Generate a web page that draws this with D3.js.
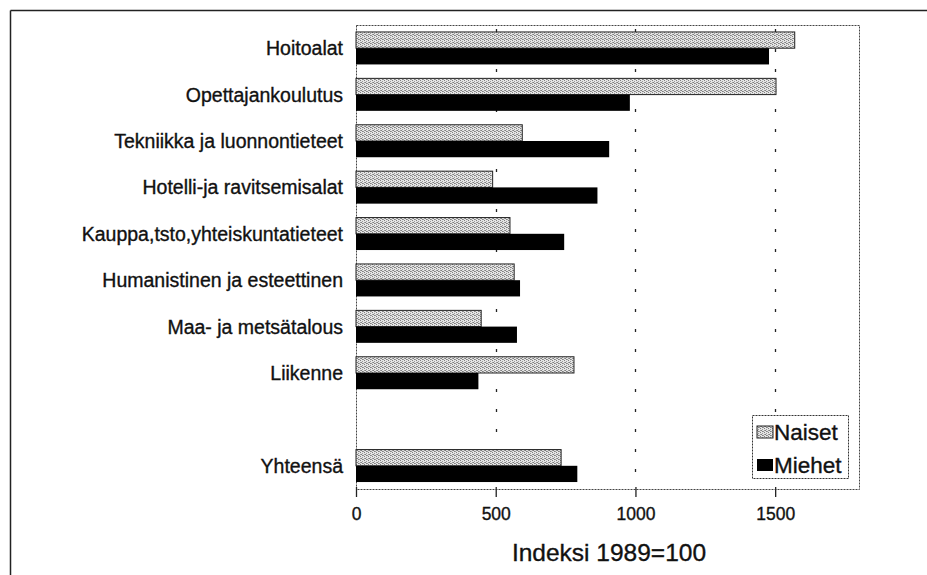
<!DOCTYPE html>
<html>
<head>
<meta charset="utf-8">
<script src="https://cdn.jsdelivr.net/npm/d3@7"></script>
<style>
  html, body { margin: 0; padding: 0; background: #fff; }
  svg { display: block; font-family: "Liberation Sans", Arial, sans-serif; }
  text { paint-order: stroke; stroke: #111; stroke-width: 0.35px; }
</style>
</head>
<body>
<svg id="chart" width="927" height="575"></svg>
<script>
// ---- data ----
const categories = [
  "Hoitoalat",
  "Opettajankoulutus",
  "Tekniikka ja luonnontieteet",
  "Hotelli-ja ravitsemisalat",
  "Kauppa,tsto,yhteiskuntatieteet",
  "Humanistinen ja esteettinen",
  "Maa- ja metsätalous",
  "Liikenne",
  "",            // empty slot
  "Yhteensä"
];
const naiset = [1570, 1503, 595, 489, 551, 566, 448, 780, null, 734];
const miehet = [1478, 980, 906, 864, 745, 587, 576, 438, null, 792];
const seriesNames = ["Naiset", "Miehet"];
const xTicks = [0, 500, 1000, 1500];
const xTitle = "Indeksi 1989=100";

// ---- layout ----
const svg = d3.select("#chart");
const pLeft = 356, pRight = 859, pTop = 25, pBottom = 489;

const x = d3.scaleLinear().domain([0, 1800]).range([pLeft, pRight]);
const slots = categories.map((c, i) => "s" + i);
const y = d3.scaleBand().domain(slots).range([pTop, pBottom])
  .paddingInner(0.3).paddingOuter(0.15);
const sub = d3.scaleBand().domain(seriesNames).range([0, y.bandwidth()]);

// stipple pattern for Naiset
const defs = svg.append("defs");
const pat = defs.append("pattern").attr("id", "stip")
  .attr("patternUnits", "userSpaceOnUse").attr("width", 4).attr("height", 4);
pat.append("rect").attr("width", 4).attr("height", 4).attr("fill", "#e4e4e4");
[[0, 0], [2, 1], [1, 2], [3, 3], [2, 3], [0, 2]].forEach(([px, py], k) => {
  pat.append("rect").attr("x", px).attr("y", py).attr("width", 1).attr("height", 1)
    .attr("fill", k % 2 ? "#9a9a9a" : "#808080");
});

// outer frame (cropped at right/bottom)
svg.append("line").attr("x1", 10.5).attr("x2", 927).attr("y1", 10.5).attr("y2", 10.5)
  .attr("stroke", "#222").attr("stroke-width", 1.5);
svg.append("line").attr("x1", 10.5).attr("x2", 10.5).attr("y1", 10.5).attr("y2", 575)
  .attr("stroke", "#222").attr("stroke-width", 1.5);

// gridlines
svg.append("g").selectAll("line").data(xTicks.filter(d => d > 0)).join("line")
  .attr("x1", d => Math.round(x(d)) + 0.5).attr("x2", d => Math.round(x(d)) + 0.5)
  .attr("y1", pTop + 4).attr("y2", pBottom)
  .attr("stroke", "#222").attr("stroke-width", 1.3)
  .attr("stroke-dasharray", "3,17");

// plot frame (dotted)
svg.append("rect").attr("x", pLeft + 0.5).attr("y", pTop + 0.5)
  .attr("width", pRight - pLeft).attr("height", pBottom - pTop)
  .attr("fill", "none").attr("stroke", "#444").attr("stroke-width", 1)
  .attr("stroke-dasharray", "2,1");

// bars
const rows = categories.map((c, i) => ({ slot: slots[i], cat: c, n: naiset[i], m: miehet[i] }))
  .filter(d => d.n != null);

const g = svg.append("g");
g.selectAll("rect.naiset").data(rows).join("rect").attr("class", "naiset")
  .attr("x", x(0)).attr("y", d => y(d.slot) + sub("Naiset"))
  .attr("width", d => x(d.n) - x(0)).attr("height", sub.bandwidth())
  .attr("fill", "url(#stip)").attr("stroke", "#222").attr("stroke-width", 1);
g.selectAll("rect.miehet").data(rows).join("rect").attr("class", "miehet")
  .attr("x", x(0)).attr("y", d => y(d.slot) + sub("Miehet"))
  .attr("width", d => x(d.m) - x(0)).attr("height", sub.bandwidth())
  .attr("fill", "#000");

// category labels
svg.append("g").selectAll("text").data(rows).join("text")
  .attr("x", 343).attr("y", d => y(d.slot) + y.bandwidth() / 2)
  .attr("dy", "0.36em").attr("text-anchor", "end")
  .attr("font-size", 19.5).attr("fill", "#111")
  .text(d => d.cat);

// x axis
const xAxis = d3.axisBottom(x).tickValues(xTicks).tickSize(10).tickPadding(11)
  .tickFormat(d3.format("d"));
const ax = svg.append("g").attr("transform", `translate(0,${pBottom - 2})`).call(xAxis);
ax.select(".domain").remove();
ax.selectAll(".tick line").attr("stroke", "#222").attr("stroke-width", 1.3);
ax.selectAll(".tick text").attr("font-size", 17.5).attr("fill", "#111")
  .attr("font-family", "Liberation Sans, Arial, sans-serif");

// axis title
svg.append("text").attr("x", 609).attr("y", 561).attr("text-anchor", "middle")
  .attr("font-size", 24.5).attr("fill", "#111").text(xTitle);

// legend
const lg = svg.append("g");
lg.append("rect").attr("x", 752.5).attr("y", 415.5).attr("width", 96).attr("height", 63)
  .attr("fill", "#fff").attr("stroke", "#333").attr("stroke-width", 1)
  .attr("stroke-dasharray", "2,1");
const fills = { Naiset: "url(#stip)", Miehet: "#000" };
seriesNames.forEach((s, i) => {
  const yy = 426 + i * 33;
  lg.append("rect").attr("x", 757).attr("y", yy).attr("width", 16).attr("height", 12)
    .attr("fill", fills[s]).attr("stroke", s === "Naiset" ? "#222" : "none");
  lg.append("text").attr("x", 774).attr("y", yy + 6).attr("dy", "0.36em")
    .attr("font-size", 22.5).attr("fill", "#111").text(s);
});
</script>
</body>
</html>
